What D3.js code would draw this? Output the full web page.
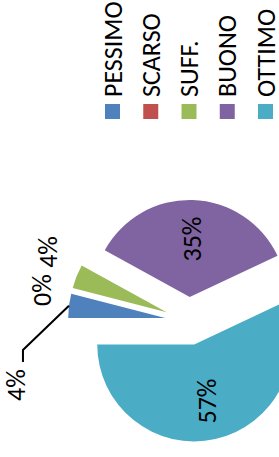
<!DOCTYPE html>
<html>
<head>
<meta charset="utf-8">
<script src="https://cdn.jsdelivr.net/npm/d3@7"></script>
<style>
  html, body { margin: 0; padding: 0; background: #fff; }
  svg { display: block; }
  text { font-family: Carlito, Calibri, Lato, "DejaVu Sans", sans-serif; fill: #000; }
</style>
</head>
<body>
<svg id="chart" width="279" height="457"></svg>
<script>
// ---- data ----
const categories = ["PESSIMO", "SCARSO", "SUFF.", "BUONO", "OTTIMO"];
const values = [4, 0, 4, 35, 57];
const labels = ["4%", "0%", "4%", "35%", "57%"];
const colors = ["#4F81BD", "#C0504D", "#9BBB59", "#8064A2", "#4BACC6"];

// ---- layout (chart drawn unrotated 457x279, then turned -90deg) ----
const W = 457, H = 279;
const cx = 136, cy = 189, R = 97, explode = 24;
const insideLabelR = 58;
// manually moved labels for small slices: [angleDeg, radius] from pie centre, or null
const outsideLabel = [[-20.3, 184.5], [11.9, 150], [26.1, 157], null, null];
const leader = [true, false, false, false, false];

const svg = d3.select("#chart");
const g = svg.append("g").attr("transform", `translate(0,${W}) rotate(-90)`);

const pie = d3.pie().sort(null).value(d => d)(values);
const arc = d3.arc().innerRadius(0).outerRadius(R);

const pieG = g.append("g").attr("transform", `translate(${cx},${cy})`);

pie.forEach((d, i) => {
  const mid = (d.startAngle + d.endAngle) / 2;
  const ox = Math.sin(mid) * explode, oy = -Math.cos(mid) * explode;
  if (d.endAngle > d.startAngle) {
    pieG.append("path")
      .attr("d", arc(d))
      .attr("transform", `translate(${ox},${oy})`)
      .attr("fill", colors[i]);
  }
  let lx, ly;
  if (outsideLabel[i]) {
    const a = outsideLabel[i][0] * Math.PI / 180, r = outsideLabel[i][1];
    lx = Math.sin(a) * r; ly = -Math.cos(a) * r;
  } else {
    lx = ox + Math.sin(mid) * insideLabelR; ly = oy - Math.cos(mid) * insideLabelR;
  }
  pieG.append("text")
    .attr("x", lx).attr("y", ly)
    .attr("text-anchor", "middle")
    .attr("dominant-baseline", "central")
    .attr("font-size", 26)
    .text(labels[i]);
  if (leader[i]) {
    const sx = ox + Math.sin(mid) * R, sy = oy - Math.cos(mid) * R;
    const pts = [[sx, sy], [lx + 35, ly + 7], [lx + 23, ly + 7]];
    pieG.append("path")
      .attr("d", d3.line()(pts))
      .attr("fill", "none")
      .attr("stroke", "#000")
      .attr("stroke-width", 2);
  }
});

// ---- legend ----
const legendY = d3.scalePoint().domain(categories).range([112.5, 265.5]);
const lg = g.append("g");
categories.forEach((c, i) => {
  const y = legendY(c);
  lg.append("rect")
    .attr("x", 338).attr("y", y - 7.5)
    .attr("width", 15).attr("height", 15)
    .attr("fill", colors[i]);
  lg.append("text")
    .attr("x", 360).attr("y", y)
    .attr("dominant-baseline", "central")
    .attr("font-size", 26)
    .text(c);
});
</script>
</body>
</html>
